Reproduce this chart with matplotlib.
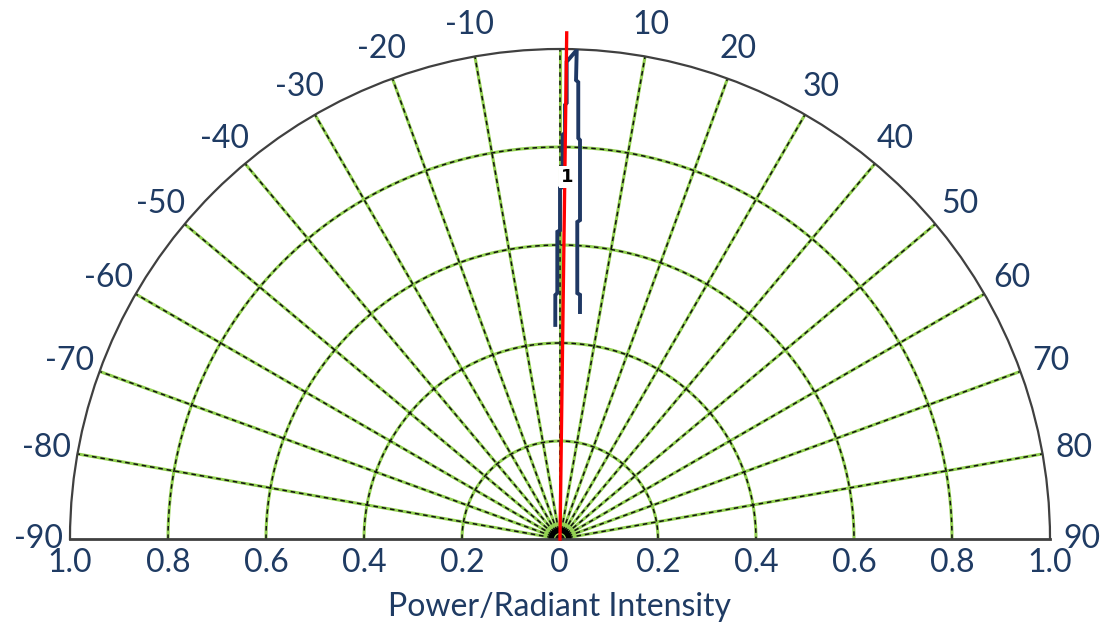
import numpy as np
import matplotlib
matplotlib.use("Agg")
import matplotlib.pyplot as plt

# ---- data ----
theta_labels = [-90, -80, -70, -60, -50, -40, -30, -20, -10,
                10, 20, 30, 40, 50, 60, 70, 80, 90]
spoke_angles = list(range(-80, 81, 10))
circle_radii = [0.2, 0.4, 0.6, 0.8]
r_labels = [1.0, 0.8, 0.6, 0.4, 0.2]

# measured radiation lobe (angle in degrees, normalized intensity)
lobe_theta = [-1.26, -1.10, -0.63, -0.50, 0.00, 0.00, 0.44, 0.38, 0.71, 0.66,
              0.88, 0.80, 1.96, 2.00, 2.29, 2.61, 2.87, 3.59, 3.12, 4.02,
              4.69, 5.03]
lobe_r = [0.437, 0.498, 0.502, 0.627, 0.630, 0.716, 0.718, 0.825, 0.829, 0.886,
          0.890, 0.974, 0.9986, 0.937, 0.933, 0.819, 0.815, 0.652, 0.648, 0.503,
          0.500, 0.465]

# peak direction marker
peak_theta = [0.0, 0.76]
peak_r = [0.0, 1.033]
peak_label = "1"
peak_label_pos = (1.06, 0.739)

axis_title = "Power/Radiant Intensity"

# ---- style ----
NAVY = "#1F3864"
TEXT = "#1F3B63"
GREEN = "#92D050"
FONT = ["Lato", "DejaVu Sans"]
plt.rcParams["font.family"] = FONT
FS = 23

W, H = 1102, 627
fig = plt.figure(figsize=(W / 100, H / 100), dpi=100)
cx, cy, R = 560, 539, 490
ax = fig.add_axes([(cx - R) / W, ((H - cy) - R / 2) / H, 2 * R / W, 2 * R / H],
                  projection="polar")
ax.set_theta_zero_location("N")
ax.set_theta_direction(-1)
ax.set_thetamin(-90)
ax.set_thetamax(90)
ax.set_rlim(0, 1)
ax.grid(False)
ax.set_xticks([])
ax.set_yticks([])
ax.spines["polar"].set_color("#404040")
ax.spines["polar"].set_linewidth(1.6)
for s in ("start", "end"):
    ax.spines[s].set_color("#404040")
    ax.spines[s].set_linewidth(2.0)

# grid: green line with black dashes on top
for a in spoke_angles:
    t = np.deg2rad(a)
    ax.plot([t, t], [0, 1], color=GREEN, lw=2.2, zorder=1, solid_capstyle="butt")
    ax.plot([t, t], [0, 1], color="#111111", lw=1.1, ls=(0, (3, 2.5)), zorder=1.1)
arc = np.linspace(-np.pi / 2, np.pi / 2, 600)
for rr in circle_radii:
    ax.plot(arc, np.full_like(arc, rr), color=GREEN, lw=2.2, zorder=1)
    ax.plot(arc, np.full_like(arc, rr), color="#111111", lw=1.1, ls=(0, (3, 2.5)), zorder=1.1)
ax.plot(arc, np.full_like(arc, 0.018), color="black", lw=4, zorder=1.2)

# lobe
ax.plot(np.deg2rad(lobe_theta), lobe_r, color=NAVY, lw=2.8, zorder=4,
        solid_joinstyle="miter")
# peak line
ax.plot(np.deg2rad(peak_theta), peak_r, color="#FF0000", lw=2.4, zorder=5, clip_on=False)
ax.text(np.deg2rad(peak_label_pos[0]), peak_label_pos[1], peak_label, ha="center",
        va="center", fontsize=13, fontweight="bold", color="black", zorder=6,
        family=["DejaVu Sans"],
        bbox=dict(boxstyle="square,pad=0.1", fc="white", ec="none"))

# angular labels
for a in theta_labels:
    ax.text(np.deg2rad(a), 1.065, f"{a}", ha="center", va="center",
            fontsize=FS, color=TEXT)

# radial labels along the baseline
for v in r_labels:
    for side in (-90, 90):
        ax.annotate(f"{v:.1f}", xy=(np.deg2rad(side), v), xytext=(0, -24),
                    textcoords="offset pixels", ha="center", va="center",
                    fontsize=FS, color=TEXT, annotation_clip=False)
ax.annotate("0", xy=(0, 0), xytext=(-1, -24), textcoords="offset pixels",
            ha="center", va="center", fontsize=FS, color=TEXT, annotation_clip=False)

fig.text(cx / W, 1 - 607 / H, axis_title, ha="center", va="center",
         fontsize=FS, color=TEXT)

fig.savefig("out.png", dpi=100)
